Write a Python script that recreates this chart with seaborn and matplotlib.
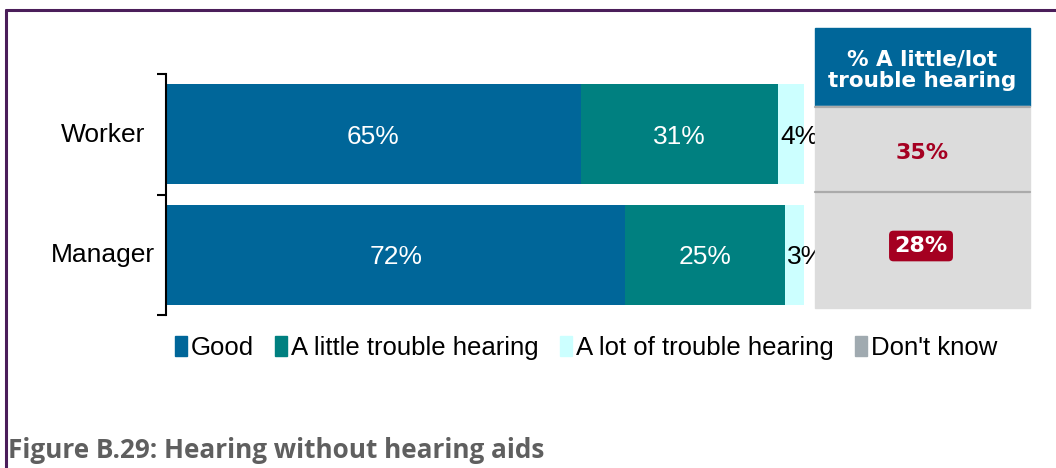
import numpy as np
import pandas as pd
import matplotlib.pyplot as plt
import matplotlib.lines as mlines
import matplotlib.patches as mpatches
import seaborn as sns

# datos
categorias = ['Worker', 'Manager']
series = ['Good', 'A little trouble hearing', 'A lot of trouble hearing', "Don't know"]
good = [65, 72]
little = [31, 25]
lot = [4, 3]
dont_know = [0, 0]
resumen = ['35%', '28%']
colores = ['#006699', '#008080', '#CCFFFF', '#A0AAB0']

sns.set_style('white')
plt.rcParams['font.family'] = ['Liberation Sans', 'DejaVu Sans']
plt.rcParams['text.color'] = 'black'

df = pd.DataFrame({'cat': categorias, 'Good': good,
                   'A little trouble hearing': little,
                   'A lot of trouble hearing': lot,
                   "Don't know": dont_know})
acum = df[series].cumsum(axis=1)
acum['cat'] = df['cat']

W, H = 1056, 468
fig = plt.figure(figsize=(W / 100, H / 100), dpi=100)
ax = fig.add_axes([166 / W, 1 - 315 / H, 638 / W, 241 / H])

# barras apiladas: se dibuja de la mas larga a la mas corta
for s, c in reversed(list(zip(series, colores))):
    sns.barplot(data=acum, x=s, y='cat', order=categorias, color=c,
                orient='h', width=0.833, ax=ax, saturation=1, linewidth=0)

# etiquetas dentro de las barras
for i in range(len(categorias)):
    izq = 0
    for s, col_txt in zip(series[:3], ['white', 'white', 'black']):
        v = df[s][i]
        if col_txt == 'black':
            ax.text(izq + 0.3, i + 0.02, f'{v}%', ha='left', va='center',
                    color=col_txt, fontsize=19)
        else:
            ax.text(izq + v / 2, i + 0.02, f'{v}%', ha='center', va='center',
                    color=col_txt, fontsize=19)
        izq += v

ax.set_xlim(0, 100)
ax.set_ylim(1.5, -0.5)
ax.set_xlabel('')
ax.set_ylabel('')
ax.set_xticks([])
ax.set_yticks([-0.5, 0.5, 1.5])
ax.set_yticklabels([])
ax.tick_params(axis='y', direction='out', length=6.5, width=1.5, color='black', left=True)
for sp in ['top', 'right', 'bottom']:
    ax.spines[sp].set_visible(False)
ax.spines['left'].set_color('black')
ax.spines['left'].set_linewidth(1.5)

for i, c in enumerate(categorias):
    fig.text(103 / W, 1 - (135 + 120 * i) / H, c, ha='center', va='center', fontsize=19)

# tabla de la derecha
tx0, tx1 = 815 / W, 1030 / W
fig.patches.append(mpatches.Rectangle((tx0, 1 - 106 / H), tx1 - tx0, 78 / H,
                                      transform=fig.transFigure, color='#006699', zorder=5))
fig.patches.append(mpatches.Rectangle((tx0, 1 - 308 / H), tx1 - tx0, 202 / H,
                                      transform=fig.transFigure, color='#DCDCDC', zorder=5))
for yy in [107, 192]:
    fig.lines.append(mlines.Line2D([tx0, tx1], [1 - yy / H] * 2, transform=fig.transFigure,
                                   color='#AAAAAA', lw=1.6, zorder=6))
fig.text(922 / W, 1 - 70 / H, '% A little/lot\ntrouble hearing', ha='center', va='center',
         color='white', fontsize=15.5, fontweight='bold', family='DejaVu Sans',
         linespacing=1.1, zorder=7)
fig.text(922 / W, 1 - 153 / H, resumen[0], ha='center', va='center', color='#A50021',
         fontsize=16, fontweight='bold', family='DejaVu Sans', zorder=7)
fig.text(921 / W, 1 - 246 / H, resumen[1], ha='center', va='center', color='white',
         fontsize=16, fontweight='bold', family='DejaVu Sans', zorder=7,
         bbox=dict(boxstyle='round,pad=0.24,rounding_size=0.2', fc='#A50021', ec='none'))

# leyenda
handles = [mpatches.Patch(color=c, label=s) for s, c in zip(series, colores)]
fig.legend(handles=handles, loc='center', bbox_to_anchor=(586 / W, 1 - 348 / H), ncol=4,
           frameon=False, fontsize=18.5, handlelength=0.45, handleheight=0.8,
           handletextpad=0.15, columnspacing=0.85, borderaxespad=0)

# titulo de la figura
fig.text(8 / W, 1 - 451 / H, 'Figure B.29: Hearing without hearing aids', ha='left',
         va='center', color='#5F5F5F', fontsize=18.8, fontweight='bold', family='Open Sans')

# marco morado
fig.lines.append(mlines.Line2D([6 / W, 1], [1 - 10 / H] * 2, transform=fig.transFigure,
                               color='#4B1E5A', lw=2.2))
fig.lines.append(mlines.Line2D([6 / W] * 2, [1 - 10 / H, 0], transform=fig.transFigure,
                               color='#4B1E5A', lw=2.2))

fig.savefig('out.png', dpi=100)
